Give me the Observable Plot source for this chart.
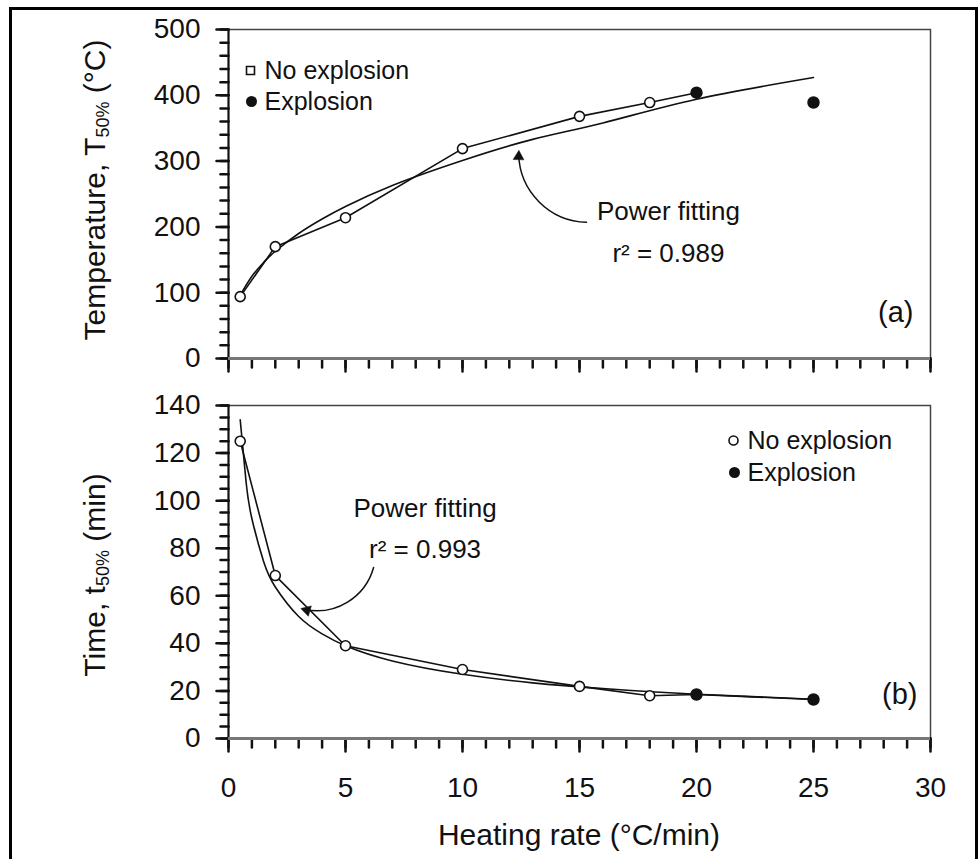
<!DOCTYPE html>
<html><head><meta charset="utf-8">
<script src="https://cdn.jsdelivr.net/npm/d3@7"></script>
<script src="https://cdn.jsdelivr.net/npm/@observablehq/plot@0.6"></script>
<style>
html,body{margin:0;padding:0;background:#fff;overflow:hidden;}
#wrap{position:relative;width:979px;height:859px;overflow:hidden;background:#fff;}
#border{position:absolute;left:9px;top:7px;width:963px;height:900px;border:3px solid #000;pointer-events:none;}
#pa{position:absolute;left:0;top:0;width:979px;}
#pb{position:absolute;left:0;top:380px;width:979px;}
</style></head><body>
<div id="wrap"><div id="pa"></div><div id="pb"></div><div id="border"></div></div>
<script>
// ---- data ----
const heatingRate    = [0.5, 2, 5, 10, 15, 18, 20, 25];
const explosion      = [false, false, false, false, false, false, true, true];
const temperatureT50 = [94, 170, 214, 319, 368, 389, 404, 389];
const timeT50        = [125, 68.5, 39, 29, 21.9, 18, 18.5, 16.4];

// fitted power curves
const fitRateA = [0.5, 1, 1.5, 2, 3, 4, 5, 7, 10, 13, 16, 20, 25];
const fitTempA = [96, 125, 146, 163, 190, 212, 231, 263, 301, 333, 358, 394, 427];
const fitRateB = [0.5, 0.75, 1, 1.5, 2, 3, 4, 5, 7, 10, 13, 16, 20, 25];
const fitTimeB = [134, 108, 92.4, 74.4, 63.7, 51.3, 44, 39, 32.6, 27, 23.4, 21, 18.6, 16.5];

// ticks
const xTicks  = [0, 5, 10, 15, 20, 25, 30];
const xMinor  = d3.range(0, 31, 1);
const yTicksA = [0, 100, 200, 300, 400, 500];
const yMinorA = d3.range(0, 501, 20);
const yTicksB = [0, 20, 40, 60, 80, 100, 120, 140];
const yMinorB = d3.range(0, 141, 5);

// labels / annotations
const legendLabels = ["No explosion", "Explosion"];
const annoA  = [{x: 18.8, y: 223, text: "Power fitting"}, {x: 18.8, y: 160, text: "r² = 0.989"}];
const arrowA = [{x1: 15.3, y1: 207, x2: 12.4, y2: 316}];
const annoB  = [{x: 8.4, y: 96.7, text: "Power fitting"}, {x: 8.4, y: 79.4, text: "r² = 0.993"}];
const arrowB = [{x1: 6.2, y1: 71.9, x2: 3.1, y2: 54.6}];

const font = '"Liberation Sans", Arial, Helvetica, sans-serif';
const ink = "#111";

const rowsA = heatingRate.map((r, i) => ({rate: r, value: temperatureT50[i], exp: explosion[i]}));
const rowsB = heatingRate.map((r, i) => ({rate: r, value: timeT50[i], exp: explosion[i]}));
const fitA = fitRateA.map((r, i) => ({rate: r, value: fitTempA[i]}));
const fitB = fitRateB.map((r, i) => ({rate: r, value: fitTimeB[i]}));

// straight tick shape for vectors
const tickShape = {draw(context, l) { context.moveTo(0, 0); context.lineTo(0, -l); }};

function axes(yTicks, yMinor, xLabels) {
  return [
    Plot.frame({stroke: "#444", strokeWidth: 1.5}),
    // y ticks (pointing left)
    Plot.vector(yMinor, {x: 0, y: d => d, length: 8, rotate: -90, anchor: "start", shape: tickShape, stroke: ink, strokeWidth: 2.5}),
    Plot.vector(yTicks, {x: 0, y: d => d, length: 12, rotate: -90, anchor: "start", shape: tickShape, stroke: ink, strokeWidth: 2.5}),
    // x ticks (pointing down)
    Plot.vector(xMinor, {x: d => d, y: 0, length: 9, rotate: 180, anchor: "start", shape: tickShape, stroke: ink, strokeWidth: 2.5}),
    Plot.vector(xTicks, {x: d => d, y: 0, length: 13, rotate: 180, anchor: "start", shape: tickShape, stroke: ink, strokeWidth: 2.5}),
    Plot.axisY(yTicks, {tickSize: 0, tickPadding: 28, fontSize: 28, label: null, fill: ink}),
    xLabels ? Plot.axisX(xTicks, {tickSize: 0, tickPadding: 39, fontSize: 28, label: null, fill: ink}) : null,
    Plot.ruleX([0], {stroke: ink, strokeWidth: 2}),
    Plot.ruleY([0], {stroke: "#777", strokeWidth: 3})
  ];
}

function arrowHead(arrow, dx, dy, rotate) {
  return Plot.dot(arrow, {x: "x2", y: "y2", dx, dy, symbol: "triangle", r: 4, rotate, fill: ink, stroke: ink, strokeWidth: 0.5});
}

const plotA = Plot.plot({
  width: 979, height: 380,
  marginLeft: 228, marginRight: 49, marginTop: 29, marginBottom: 22,
  style: {fontFamily: font, color: ink, background: "transparent", overflow: "visible"},
  x: {domain: [0, 30], axis: null},
  y: {domain: [0, 500]},
  marks: [
    ...axes(yTicksA, yMinorA, false),
    Plot.line(fitA, {x: "rate", y: "value", curve: "natural", stroke: ink, strokeWidth: 1.6}),
    Plot.line(rowsA.filter(d => d.rate <= 20), {x: "rate", y: "value", stroke: ink, strokeWidth: 1.6}),
    Plot.dot(rowsA.filter(d => !d.exp), {x: "rate", y: "value", r: 5, stroke: ink, strokeWidth: 1.6, fill: "#fff"}),
    Plot.dot(rowsA.filter(d => d.exp), {x: "rate", y: "value", r: 5.5, fill: ink, stroke: ink}),
    // legend
    Plot.dot([0], {frameAnchor: "top-left", dx: 22, dy: 41, r: 4.5, symbol: "square", stroke: ink, strokeWidth: 1.6, fill: "#fff"}),
    Plot.dot([0], {frameAnchor: "top-left", dx: 23, dy: 72, r: 5.5, fill: ink}),
    Plot.text([legendLabels[0]], {text: d => d, frameAnchor: "top-left", dx: 36, dy: 41, textAnchor: "start", lineAnchor: "middle", fontSize: 25, fill: ink}),
    Plot.text([legendLabels[1]], {text: d => d, frameAnchor: "top-left", dx: 36, dy: 72, textAnchor: "start", lineAnchor: "middle", fontSize: 25, fill: ink}),
    // annotation
    Plot.text(annoA, {x: "x", y: "y", text: "text", fontSize: 26, textAnchor: "middle", lineAnchor: "middle", fill: ink}),
    Plot.arrow(arrowA, {x1: "x1", y1: "y1", x2: "x2", y2: "y2", bend: 45, stroke: ink, strokeWidth: 1.5, headLength: 0, insetEnd: 4}),
    arrowHead(arrowA, 0, 6, 2),
    Plot.text(["(a)"], {text: d => d, frameAnchor: "bottom-right", dx: -17, dy: -46, textAnchor: "end", lineAnchor: "middle", fontSize: 29, fill: ink})
  ]
});

const plotB = Plot.plot({
  width: 979, height: 479,
  marginLeft: 228, marginRight: 49, marginTop: 25, marginBottom: 121,
  style: {fontFamily: font, color: ink, background: "transparent", overflow: "visible"},
  x: {domain: [0, 30]},
  y: {domain: [0, 140]},
  marks: [
    ...axes(yTicksB, yMinorB, true),
    Plot.line(fitB, {x: "rate", y: "value", curve: "natural", stroke: ink, strokeWidth: 1.6}),
    Plot.line(rowsB, {x: "rate", y: "value", stroke: ink, strokeWidth: 1.6}),
    Plot.dot(rowsB.filter(d => !d.exp), {x: "rate", y: "value", r: 5, stroke: ink, strokeWidth: 1.6, fill: "#fff"}),
    Plot.dot(rowsB.filter(d => d.exp), {x: "rate", y: "value", r: 5.5, fill: ink, stroke: ink}),
    // legend
    Plot.dot([0], {frameAnchor: "top-right", dx: -197, dy: 35, r: 4.5, stroke: ink, strokeWidth: 1.6, fill: "#fff"}),
    Plot.dot([0], {frameAnchor: "top-right", dx: -196, dy: 67, r: 5.5, fill: ink}),
    Plot.text([legendLabels[0]], {text: d => d, frameAnchor: "top-right", dx: -183, dy: 35, textAnchor: "start", lineAnchor: "middle", fontSize: 25, fill: ink}),
    Plot.text([legendLabels[1]], {text: d => d, frameAnchor: "top-right", dx: -183, dy: 67, textAnchor: "start", lineAnchor: "middle", fontSize: 25, fill: ink}),
    // annotation
    Plot.text(annoB, {x: "x", y: "y", text: "text", fontSize: 26, textAnchor: "middle", lineAnchor: "middle", fill: ink}),
    Plot.arrow(arrowB, {x1: "x1", y1: "y1", x2: "x2", y2: "y2", bend: 45, stroke: ink, strokeWidth: 1.5, headLength: 0, insetEnd: 4}),
    arrowHead(arrowB, 5.8, 1.6, -74),
    Plot.text(["(b)"], {text: d => d, frameAnchor: "bottom-right", dx: -13, dy: -44, textAnchor: "end", lineAnchor: "middle", fontSize: 29, fill: ink})
  ]
});

function yTitle(svg, x, y, main, sub, rest) {
  const t = d3.select(svg).append("text")
    .attr("transform", `translate(${x},${y}) rotate(-90)`)
    .attr("text-anchor", "middle")
    .attr("font-family", font).attr("font-size", 30).attr("fill", ink);
  t.append("tspan").text(main);
  t.append("tspan").attr("font-size", 18).attr("dy", 4).text(sub);
  t.append("tspan").attr("dy", -4).text(rest);
}
yTitle(plotA, 105, 190, "Temperature, T", "50%", " (°C)");
yTitle(plotB, 105, 195, "Time, t", "50%", " (min)");
d3.select(plotB).append("text")
  .attr("x", 579).attr("y", 465).attr("text-anchor", "middle")
  .attr("font-family", font).attr("font-size", 30).attr("fill", ink)
  .text("Heating rate (°C/min)");

document.getElementById("pa").appendChild(plotA);
document.getElementById("pb").appendChild(plotB);
</script>
</body></html>
